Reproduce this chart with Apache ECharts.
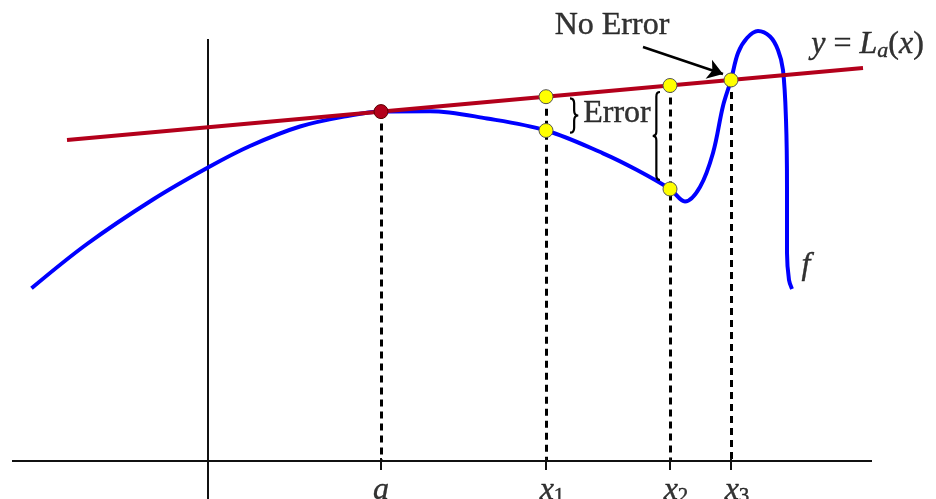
<!DOCTYPE html>
<html><head><meta charset="utf-8">
<script src="https://cdn.jsdelivr.net/npm/echarts@6/dist/echarts.min.js"></script>
<style>html,body{margin:0;padding:0;background:#fff}#c{width:936px;height:499px}</style>
</head><body><div id="c"></div>
<script>
// ---- data (units: horizontal axis at y=0, vertical axis at x=0) ----
// sample points of the curve f
const curveX = [-176.5,-121,-55,0,42,92,142,173,222,279,338,395,429,462,477,492,505,515,523,530,539,550,562,570,575,578,579,579,581,584];
const curveY = [172.7,217,261.5,293.5,315,334.5,345.5,349.5,349.8,342.5,330.5,307.7,291,272,259.5,274,308,355,381,408,423,430,424.5,411,391,341,274,208,181,172];
// tangent line y = L_a(x), endpoints
const tangentX = [-141, 655];
const tangentY = [321, 393];
// marked abscissas
const markNames = ['a', 'x1', 'x2', 'x3'];
const markX = [173, 338, 462, 523];
const markLineY = [349.4, 364.3, 375.5, 381];   // L_a at each mark
const markCurveY = [349.4, 330.5, 272, 381];    // f at each mark
const markLabels = ['{i|a}', '{i|x}{s|1}', '{i|x}{s|2}', '{i|x}{s|3}'];
// axes extents
const hAxisX = [-196, 664];
const vAxisY = [-38, 422];
const tickLen = 9;
// annotation texts
const noteTexts = ['No Error', '{r|Error}', '{i|y} = {i|L}{si|a}{r|(}{i|x}{r|)}', '{i|f}'];
const noteX = [404, 409, 659.5, 598];
const noteY = [435, 347, 416, 195];
// arrow "No Error" -> x3
const arrowFrom = [435, 414];
const arrowTo = [515, 387];
// braces: ends x, tip x, top y, bottom y
const braceEndX = [362, 452];
const braceTipX = [370.3, 444.7];
const braceTopY = [362.7, 369];
const braceBotY = [328.3, 281];

// ---- chart ----
const FONT = 'Liberation Serif';
const FS = 32;
const ink = {color: '#000', textBorderColor: '#000', textBorderWidth: 0.4};
const rich = {
  i: Object.assign({fontFamily: FONT, fontStyle: 'italic', fontSize: FS}, ink),
  r: Object.assign({fontFamily: FONT, fontSize: FS}, ink),
  s: Object.assign({fontFamily: FONT, fontSize: 21, padding: [10, 0, 0, 0]}, ink),
  si: Object.assign({fontFamily: FONT, fontStyle: 'italic', fontSize: 22, padding: [12, 0, 0, 0]}, ink)
};
const chart = echarts.init(document.getElementById('c'), null, {renderer: 'canvas'});

const yellowPts = [];
for (let k = 1; k < markX.length; k++) {
  yellowPts.push([markX[k], markLineY[k]]);
  if (markCurveY[k] !== markLineY[k]) yellowPts.push([markX[k], markCurveY[k]]);
}

const option = {
  animation: false,
  backgroundColor: '#fff',
  grid: {left: 0, right: 0, top: 0, bottom: 0},
  xAxis: {type: 'value', min: -208, max: 728, show: false},
  yAxis: {type: 'value', min: -38, max: 461, show: false},
  series: [
    { // dashed verticals
      type: 'lines', coordinateSystem: 'cartesian2d', silent: true, z: 1,
      lineStyle: {color: '#000', width: 3, type: [7, 5], opacity: 1},
      data: markX.map((x, k) => ({coords: [[x, markLineY[k]], [x, 0]]}))
    },
    { // axes
      type: 'lines', coordinateSystem: 'cartesian2d', silent: true, z: 2,
      lineStyle: {color: '#111', width: 2, opacity: 1},
      data: [{coords: [[hAxisX[0], 0], [hAxisX[1], 0]]}, {coords: [[0, vAxisY[0]], [0, vAxisY[1]]]}]
    },
    { // ticks
      type: 'lines', coordinateSystem: 'cartesian2d', silent: true, z: 2,
      lineStyle: {color: '#111', width: 2, opacity: 1},
      data: markX.map(x => ({coords: [[x, 3], [x, -tickLen]]}))
    },
    { // f
      type: 'line', symbol: 'none', smooth: 0.35, silent: true, z: 3,
      lineStyle: {color: '#0000ff', width: 4},
      data: curveX.map((x, k) => [x, curveY[k]])
    },
    { // tangent
      type: 'line', symbol: 'none', silent: true, z: 4,
      lineStyle: {color: '#b3001b', width: 4},
      data: tangentX.map((x, k) => [x, tangentY[k]])
    },
    { // arrow
      type: 'lines', coordinateSystem: 'cartesian2d', silent: true, z: 5,
      symbol: ['none', 'arrow'], symbolSize: 15,
      lineStyle: {color: '#000', width: 2.5, opacity: 1},
      data: [{coords: [arrowFrom, arrowTo]}]
    },
    { // braces
      type: 'custom', silent: true, z: 5,
      data: braceEndX.map((x, k) => [x, braceTipX[k], braceTopY[k], braceBotY[k]]),
      renderItem: function (params, api) {
        const pTop = api.coord([api.value(0), api.value(2)]);
        const pBot = api.coord([api.value(0), api.value(3)]);
        const pTip = api.coord([api.value(1), api.value(2)]);
        const e = pTop[0], t = pTip[0], m = (e + t) / 2;
        const y0 = pTop[1], y1 = pBot[1], yc = (y0 + y1) / 2;
        const r = Math.abs(t - e) / 2 * 1.2;
        const d = 'M' + e + ' ' + y0 + ' Q' + m + ' ' + y0 + ' ' + m + ' ' + (y0 + r) +
          ' L' + m + ' ' + (yc - r) + ' Q' + m + ' ' + yc + ' ' + t + ' ' + yc +
          ' Q' + m + ' ' + yc + ' ' + m + ' ' + (yc + r) +
          ' L' + m + ' ' + (y1 - r) + ' Q' + m + ' ' + y1 + ' ' + e + ' ' + y1;
        return {type: 'path', shape: {pathData: d}, style: {fill: 'none', stroke: '#000', lineWidth: 2.2}};
      }
    },
    { // yellow points
      type: 'scatter', symbolSize: 14, silent: true, z: 6,
      itemStyle: {color: '#ffff00', borderColor: '#555', borderWidth: 1, opacity: 1},
      data: yellowPts
    },
    { // point (a, f(a))
      type: 'scatter', symbolSize: 14, silent: true, z: 6,
      itemStyle: {color: '#b3001b', borderColor: '#5a0000', borderWidth: 1, opacity: 1},
      data: [[markX[0], markCurveY[0]]]
    },
    { // tick labels
      type: 'scatter', symbolSize: 0, silent: true, z: 7,
      data: markX.map((x, k) => ({
        value: [x, -30], name: markNames[k],
        label: Object.assign({show: true, position: 'inside', formatter: markLabels[k], rich: rich,
          offset: [k === 0 ? 0 : 6, 0], fontFamily: FONT, fontSize: FS}, ink)
      }))
    },
    { // annotations
      type: 'scatter', symbolSize: 0, silent: true, z: 7,
      data: noteTexts.map((s, k) => ({
        value: [noteX[k], noteY[k]],
        label: Object.assign({show: true, position: 'inside', formatter: s, rich: rich,
          fontFamily: FONT, fontSize: FS}, ink)
      }))
    }
  ]
};
chart.setOption(option);
</script>
</body></html>
